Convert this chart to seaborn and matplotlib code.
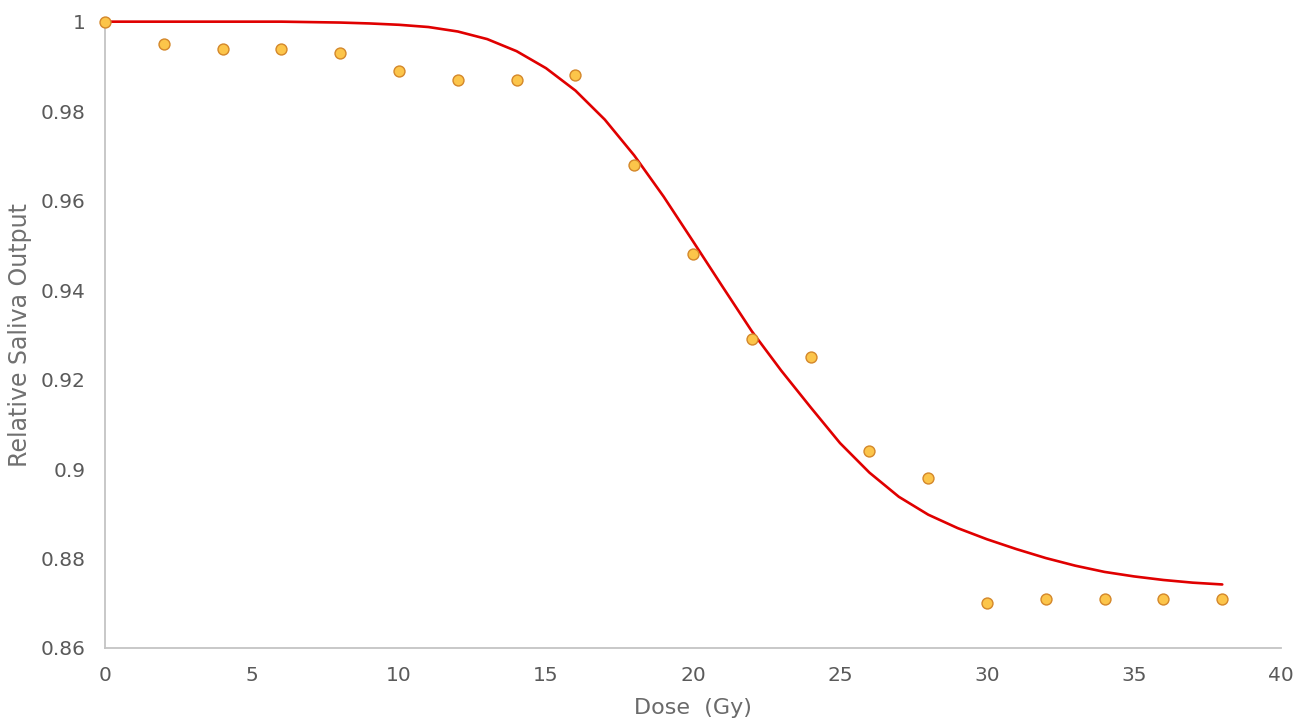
import matplotlib
matplotlib.use("Agg")
import matplotlib.pyplot as plt
import seaborn as sns
import pandas as pd

dose_gy = [0, 2, 4, 6, 8, 10, 12, 14, 16, 18, 20, 22, 24, 26, 28, 30, 32, 34, 36, 38]
saliva_output = [1.000, 0.995, 0.994, 0.994, 0.993, 0.989, 0.987, 0.987, 0.988, 0.968,
                 0.948, 0.929, 0.925, 0.904, 0.898, 0.870, 0.871, 0.871, 0.871, 0.871]

# Fitted curve, read at whole-Gy steps
fit_dose = list(range(0, 39))
fit_output = [1.0000, 1.0000, 1.0000, 1.0000, 1.0000, 1.0000, 1.0000, 0.9999, 0.9998, 0.9996,
              0.9993, 0.9988, 0.9978, 0.9961, 0.9934, 0.9896, 0.9846, 0.9781, 0.9701, 0.9609,
              0.9509, 0.9408, 0.9308, 0.9220, 0.9138, 0.9058, 0.8992, 0.8938, 0.8898, 0.8868,
              0.8843, 0.8821, 0.8801, 0.8784, 0.8770, 0.8760, 0.8752, 0.8746, 0.8742]

y_ticks = [0.86, 0.88, 0.90, 0.92, 0.94, 0.96, 0.98, 1.00]
y_tick_labels = ["0.86", "0.88", "0.9", "0.92", "0.94", "0.96", "0.98", "1"]
x_ticks = [0, 5, 10, 15, 20, 25, 30, 35, 40]

points = pd.DataFrame({"dose": dose_gy, "output": saliva_output})
curve = pd.DataFrame({"dose": fit_dose, "output": fit_output})

sns.set_theme(style="white")
plt.rcParams["font.family"] = ["DejaVu Sans"]

fig = plt.figure(figsize=(13.06, 7.22), dpi=100)
ax = fig.add_axes([0.0804, 0.1025, 0.9005, 0.8675])

# Red fitted curve
sns.lineplot(data=curve, x="dose", y="output", color="#e00000", linewidth=1.9,
             ax=ax, clip_on=False, zorder=2, solid_joinstyle="round")

# Orange measured points
sns.scatterplot(data=points, x="dose", y="output", s=62, color="#fcc54a",
                edgecolor="#d4872a", linewidth=1.0, ax=ax, clip_on=False, zorder=3)

ax.set_xlim(0, 40)
ax.set_ylim(0.86, 1.0)
ax.set_xticks(x_ticks)
ax.set_yticks(y_ticks)
ax.set_yticklabels(y_tick_labels)

for side in ["top", "right"]:
    ax.spines[side].set_visible(False)
for side in ["left", "bottom"]:
    ax.spines[side].set_color("#c4c4c4")
    ax.spines[side].set_linewidth(1.3)

ax.tick_params(axis="y", direction="in", length=4, width=1, color="#c4c4c4",
               labelsize=14.5, labelcolor="#5a5a5a", pad=14)
ax.tick_params(axis="x", length=0, labelsize=14.5, labelcolor="#5a5a5a", pad=13)

ax.set_xlabel("Dose  (Gy)", fontsize=16, color="#6a6a6a", labelpad=9)
ax.set_ylabel("Relative Saliva Output", fontsize=17, color="#707070", labelpad=6)

fig.savefig("out.png", dpi=100)
